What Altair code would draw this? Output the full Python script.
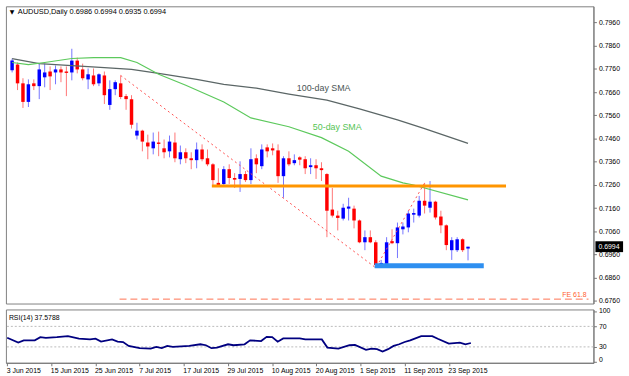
import altair as alt
import pandas as pd

# ---------------- data ----------------
opens = [0.7754, 0.7779, 0.7698, 0.7618, 0.7698, 0.7686, 0.7724, 0.7749, 0.7745, 0.7758,
         0.7749, 0.7745, 0.7796, 0.7758, 0.7715, 0.7732, 0.7698, 0.7732, 0.7605, 0.7673,
         0.7698, 0.7643, 0.7630, 0.7473, 0.7494, 0.7443, 0.7418, 0.7443, 0.7418, 0.7405,
         0.7443, 0.7371, 0.7401, 0.7375, 0.7367, 0.7413, 0.7375, 0.7349, 0.7269, 0.7264,
         0.7328, 0.7290, 0.7286, 0.7307, 0.7281, 0.7375, 0.7341, 0.7422, 0.7418, 0.7409,
         0.7298, 0.7375, 0.7354, 0.7379, 0.7371, 0.7337, 0.7345, 0.7332, 0.7307, 0.7154,
         0.7128, 0.7115, 0.7158, 0.7158, 0.7107, 0.7013, 0.7035, 0.7013, 0.6915, 0.6920,
         0.7018, 0.7009, 0.7069, 0.7077, 0.7132, 0.7128, 0.7192, 0.7162, 0.7188, 0.7124,
         0.7086, 0.6979, 0.6979, 0.7026, 0.6986]
highs = [0.7805, 0.7788, 0.7720, 0.7715, 0.7715, 0.7783, 0.7783, 0.7771, 0.7775, 0.7771,
         0.7771, 0.7847, 0.7809, 0.7783, 0.7762, 0.7762, 0.7741, 0.7749, 0.7711, 0.7711,
         0.7732, 0.7652, 0.7647, 0.7528, 0.7498, 0.7477, 0.7486, 0.7490, 0.7456, 0.7473,
         0.7486, 0.7430, 0.7418, 0.7401, 0.7443, 0.7435, 0.7413, 0.7354, 0.7332, 0.7341,
         0.7349, 0.7311, 0.7362, 0.7320, 0.7418, 0.7392, 0.7435, 0.7435, 0.7439, 0.7435,
         0.7384, 0.7405, 0.7392, 0.7384, 0.7384, 0.7375, 0.7371, 0.7358, 0.7311, 0.7247,
         0.7149, 0.7179, 0.7205, 0.7171, 0.7111, 0.7064, 0.7064, 0.7022, 0.6937, 0.7035,
         0.7069, 0.7098, 0.7098, 0.7149, 0.7158, 0.7213, 0.7269, 0.7277, 0.7192, 0.7149,
         0.7090, 0.7035, 0.7035, 0.7030, 0.6994]
lows = [0.7745, 0.7669, 0.7592, 0.7596, 0.7669, 0.7630, 0.7681, 0.7669, 0.7694, 0.7703,
        0.7643, 0.7711, 0.7741, 0.7711, 0.7673, 0.7686, 0.7686, 0.7609, 0.7584, 0.7647,
        0.7630, 0.7584, 0.7503, 0.7456, 0.7405, 0.7371, 0.7392, 0.7384, 0.7375, 0.7379,
        0.7358, 0.7349, 0.7354, 0.7328, 0.7332, 0.7362, 0.7341, 0.7256, 0.7256, 0.7256,
        0.7264, 0.7247, 0.7230, 0.7273, 0.7264, 0.7311, 0.7328, 0.7379, 0.7388, 0.7269,
        0.7205, 0.7341, 0.7345, 0.7345, 0.7307, 0.7307, 0.7286, 0.7277, 0.7035, 0.7120,
        0.7064, 0.7107, 0.7107, 0.7073, 0.7009, 0.6979, 0.7009, 0.6903, 0.6907, 0.6915,
        0.7005, 0.6945, 0.7047, 0.7056, 0.7098, 0.7120, 0.7137, 0.7141, 0.7111, 0.7052,
        0.6979, 0.6937, 0.6971, 0.6971, 0.6935]
closes = [0.7796, 0.7698, 0.7618, 0.7694, 0.7686, 0.7758, 0.7745, 0.7728, 0.7758, 0.7745,
          0.7743, 0.7796, 0.7758, 0.7720, 0.7737, 0.7694, 0.7737, 0.7647, 0.7673, 0.7703,
          0.7639, 0.7630, 0.7520, 0.7494, 0.7447, 0.7426, 0.7447, 0.7437, 0.7401, 0.7447,
          0.7375, 0.7401, 0.7375, 0.7367, 0.7413, 0.7371, 0.7349, 0.7281, 0.7260, 0.7328,
          0.7290, 0.7283, 0.7307, 0.7281, 0.7371, 0.7349, 0.7413, 0.7405, 0.7409, 0.7298,
          0.7375, 0.7349, 0.7367, 0.7369, 0.7332, 0.7345, 0.7332, 0.7324, 0.7149, 0.7128,
          0.7118, 0.7162, 0.7167, 0.7107, 0.7013, 0.7035, 0.7013, 0.6915, 0.6924, 0.7013,
          0.7009, 0.7077, 0.7081, 0.7137, 0.7139, 0.7192, 0.7171, 0.7188, 0.7120, 0.7086,
          0.7001, 0.7022, 0.7026, 0.6979, 0.6994]
bar_index = list(range(len(closes)))

sma100_i = [0, 5, 17, 22, 27, 34, 39, 45, 51, 58, 64, 71, 76, 84]
sma100_v = [0.7805, 0.7783, 0.7766, 0.7758, 0.7741, 0.7715, 0.7694, 0.7677, 0.7652,
            0.7626, 0.7588, 0.7541, 0.7503, 0.7439]
sma50_i = [0, 3, 6, 11, 15, 20, 23, 27, 32, 39, 44, 51, 57, 62, 68, 72, 74, 84]
sma50_v = [0.7788, 0.7779, 0.7788, 0.7805, 0.7809, 0.7809, 0.7788, 0.7737, 0.7690,
           0.7618, 0.7549, 0.7511, 0.7464, 0.7405, 0.7298, 0.7269, 0.7260, 0.7196]

rsi_i = [0, 2, 3, 5, 6, 7, 9, 11, 13, 15, 16, 17, 19, 20, 21, 22, 24, 26, 27, 28, 29, 30,
         33, 35, 36, 37, 38, 40, 41, 43, 44, 46, 47, 48, 49, 50, 53, 54, 57, 58, 60, 62,
         63, 65, 66, 67, 68, 69, 70, 71, 72, 73, 75, 77, 78, 80, 82, 83, 84]
rsi_v = [47.8, 38.3, 42.7, 42.7, 49.0, 47.8, 49.0, 51.0, 45.9, 44.6, 45.9, 40.2, 44.6,
         40.2, 39.5, 31.9, 27.5, 26.8, 30.0, 27.5, 31.9, 30.0, 31.9, 35.1, 33.2, 27.5,
         28.7, 35.1, 33.2, 35.1, 42.7, 41.4, 49.7, 49.0, 40.2, 46.5, 46.5, 44.6, 44.6,
         28.7, 26.8, 33.2, 33.8, 24.3, 26.8, 25.6, 21.1, 25.6, 31.9, 35.1, 39.5, 42.7,
         51.0, 51.0, 45.9, 36.3, 38.3, 35.1, 37.6]
rsi_levels = [70, 30]

trend_i = [20, 67, 76]
trend_p = [0.7732, 0.6903, 0.7269]
resist_i = [36.8, 91.0]
resist_p = [0.7256]
support_i = [66.8, 86.9]
support_p = [0.6912]
fe_i = [19.8, 106.2]
fe_p = [0.6768]

date_ticks = [0, 8, 16, 24, 32, 40, 48, 56, 64, 72, 80]
date_labels = ["3 Jun 2015", "15 Jun 2015", "25 Jun 2015", "7 Jul 2015", "17 Jul 2015",
               "29 Jul 2015", "10 Aug 2015", "20 Aug 2015", "1 Sep 2015", "11 Sep 2015",
               "23 Sep 2015"]
price_ticks = [0.6760, 0.6860, 0.6960, 0.7060, 0.7160, 0.7260, 0.7360, 0.7460, 0.7560,
               0.7660, 0.7760, 0.7860, 0.7960]
rsi_ticks = [0, 30, 70, 100]

header_text = "AUDUSD,Daily  0.6986 0.6994 0.6935 0.6994"
rsi_text = "RSI(14) 37.5788"

# ---------------- chart ----------------
FONT = "Liberation Sans"
W = 595
H_MAIN = 301
H_RSI = 54

xs = alt.Scale(domain=[-0.23, 106.2], nice=False, zero=False)
ys = alt.Scale(domain=[0.6749, 0.8030], nice=False, zero=False)
rs = alt.Scale(domain=[-1, 103], nice=False, zero=False)

price_axis = alt.Axis(orient="right", values=price_ticks, format=".4f", title=None,
                      grid=False, tickSize=3, tickColor="#777777", domainColor="#777777",
                      labelFont=FONT, labelFontSize=7, labelColor="#000000", labelPadding=2)
X_NONE = alt.X("i:Q", scale=xs, axis=None)

candles = pd.DataFrame({"i": bar_index, "open": opens, "high": highs,
                        "low": lows, "close": closes})
candles["dir"] = ["up" if c >= o else "down" for o, c in zip(opens, closes)]
color = alt.Color("dir:N", scale=alt.Scale(domain=["up", "down"],
                                           range=["#0000FF", "#FF0000"]), legend=None)

wicks = alt.Chart(candles).mark_rule(strokeWidth=1, opacity=0.55).encode(
    x=X_NONE, y=alt.Y("low:Q", scale=ys, axis=price_axis), y2="high:Q", color=color)
bodies = alt.Chart(candles).mark_bar(size=3.5).encode(
    x=X_NONE, y=alt.Y("open:Q", scale=ys, axis=price_axis), y2="close:Q", color=color)

sma100 = alt.Chart(pd.DataFrame({"i": sma100_i, "v": sma100_v})).mark_line(
    color="#5B6666", strokeWidth=1.3).encode(
    x=X_NONE, y=alt.Y("v:Q", scale=ys, axis=price_axis))
sma50 = alt.Chart(pd.DataFrame({"i": sma50_i, "v": sma50_v})).mark_line(
    color="#5CC95C", strokeWidth=1.2).encode(
    x=X_NONE, y=alt.Y("v:Q", scale=ys, axis=price_axis))

trend = alt.Chart(pd.DataFrame({"i": trend_i, "v": trend_p})).mark_line(
    color="#FF5050", strokeWidth=1, strokeDash=[2, 3]).encode(
    x=X_NONE, y=alt.Y("v:Q", scale=ys, axis=price_axis))

resist = alt.Chart(pd.DataFrame({"i": [resist_i[0]], "i2": [resist_i[1]], "v": resist_p})
                   ).mark_rule(color="#FF9500", strokeWidth=3).encode(
    x=X_NONE, x2="i2:Q", y=alt.Y("v:Q", scale=ys, axis=price_axis))
support = alt.Chart(pd.DataFrame({"i": [support_i[0]], "i2": [support_i[1]], "v": support_p})
                    ).mark_rule(color="#2E8FF0", strokeWidth=5).encode(
    x=X_NONE, x2="i2:Q", y=alt.Y("v:Q", scale=ys, axis=price_axis))
fe = alt.Chart(pd.DataFrame({"i": [fe_i[0]], "i2": [fe_i[1]], "v": fe_p})).mark_rule(
    color="#FF7050", strokeWidth=1, strokeDash=[7, 4]).encode(
    x=X_NONE, x2="i2:Q", y=alt.Y("v:Q", scale=ys, axis=price_axis))
fe_label = alt.Chart(pd.DataFrame({"i": [fe_i[1]], "v": fe_p, "t": ["FE 61.8"]})).mark_text(
    align="right", baseline="bottom", font=FONT, fontSize=7, color="#FF6030", dx=-2, dy=-1
).encode(x=X_NONE, y=alt.Y("v:Q", scale=ys, axis=price_axis), text="t:N")

lab100 = alt.Chart(pd.DataFrame({"i": [57.4], "v": [0.7677], "t": ["100-day SMA"]})
                   ).mark_text(font=FONT, fontSize=9, color="#4A5555").encode(
    x=X_NONE, y=alt.Y("v:Q", scale=ys, axis=price_axis), text="t:N")
lab50 = alt.Chart(pd.DataFrame({"i": [59.9], "v": [0.7511], "t": ["50-day SMA"]})
                  ).mark_text(font=FONT, fontSize=9, color="#55C455").encode(
    x=X_NONE, y=alt.Y("v:Q", scale=ys, axis=price_axis), text="t:N")

header_df = pd.DataFrame({"t": [header_text]})
header = alt.Chart(header_df).mark_text(
    align="left", baseline="middle", font=FONT, fontSize=7.5, color="#000000").encode(
    x=alt.value(12), y=alt.value(6), text="t:N")
tri = alt.Chart(pd.DataFrame({"t": ["\u25BC"]})).mark_text(
    align="left", baseline="middle", font="DejaVu Sans", fontSize=6, color="#000000").encode(
    x=alt.value(4), y=alt.value(6), text="t:N")

last_df = pd.DataFrame({"v": [closes[-1]], "t": [f"{closes[-1]:.4f}"]})
last_box = alt.Chart(last_df).mark_rule(color="#000000", strokeWidth=11).encode(
    x=alt.value(W + 2), x2=alt.value(W + 30),
    y=alt.Y("v:Q", scale=ys, axis=price_axis))
last_txt = alt.Chart(last_df).mark_text(
    align="left", baseline="middle", font=FONT, fontSize=7, color="#FFFFFF").encode(
    x=alt.value(W + 5), y=alt.Y("v:Q", scale=ys, axis=price_axis), text="t:N")

main = alt.layer(wicks, bodies, sma100, sma50, trend, resist, support, fe, fe_label,
                 lab100, lab50, header, tri, last_box, last_txt).properties(
    width=W, height=H_MAIN)

# RSI panel
label_expr = "[" + ",".join(f"'{s}'" for s in date_labels) + "][round(datum.value / 8)]"
date_axis = alt.Axis(values=date_ticks, labelExpr=label_expr, labelAlign="left",
                     labelFont=FONT, labelFontSize=7, labelColor="#000000", tickSize=3,
                     labelPadding=1, labelOffset=-1, grid=False, title=None,
                     domainColor="#777777", tickColor="#777777", labelFlush=False,
                     labelOverlap=False)
rsi_axis = alt.Axis(orient="right", values=rsi_ticks, title=None, grid=False, tickSize=3,
                    labelFont=FONT, labelFontSize=7, labelColor="#000000", labelPadding=2,
                    labelFlush=True, domainColor="#777777", tickColor="#777777")

rsi_lv = alt.Chart(pd.DataFrame({"v": rsi_levels})).mark_rule(
    color="#BBBBBB", strokeWidth=1, strokeDash=[2, 2]).encode(
    y=alt.Y("v:Q", scale=rs, axis=rsi_axis))
rsi_line = alt.Chart(pd.DataFrame({"i": rsi_i, "r": rsi_v})).mark_line(
    color="#000080", strokeWidth=1.8).encode(
    x=alt.X("i:Q", scale=xs, axis=date_axis),
    y=alt.Y("r:Q", scale=rs, axis=rsi_axis))
rsi_lab = alt.Chart(pd.DataFrame({"t": [rsi_text]})).mark_text(
    align="left", baseline="middle", font=FONT, fontSize=7, color="#000000").encode(
    x=alt.value(3), y=alt.value(9), text="t:N")

rsi = alt.layer(rsi_lv, rsi_line, rsi_lab).properties(width=W, height=H_RSI)

chart = alt.vconcat(main, rsi, spacing=2).properties(
    padding={"left": 3, "top": 3, "right": 0, "bottom": 0},
    background="white",
).configure_view(stroke="#808080", strokeWidth=1)

chart.save("out.html", embed_options={"renderer": "svg", "actions": False})
